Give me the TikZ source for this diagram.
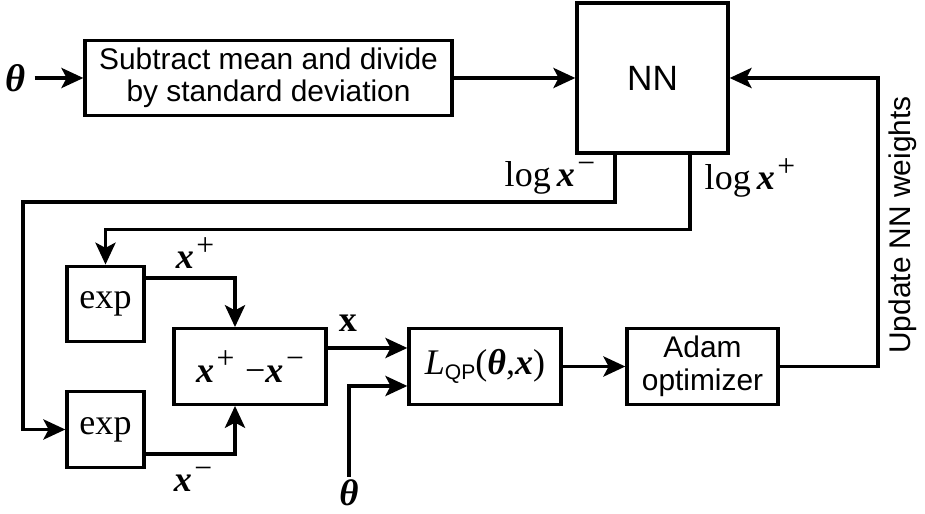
\documentclass[tikz,border=0pt]{standalone}
\usepackage{fontspec}
\usepackage{tikz}
\setmainfont{Liberation Sans}
\newfontfamily\tms{Liberation Serif}
\usetikzlibrary{arrows.meta}

\newcommand{\bx}{\textbf{\textit{x}}}
\newcommand{\bth}{\textbf{\textit{θ}}}
\newcommand{\sps}[1]{\kern1.5pt\raisebox{0.8ex}{\fontsize{18}{18}\selectfont #1}}

\begin{document}
\begin{tikzpicture}[
    line width=1.9pt,
    arr/.style={-{Stealth[length=12.5pt, width=11.5pt, inset=3pt]}},
    blk/.style={draw, inner sep=0pt, minimum height=1.51cm, align=center,
        font=\fontsize{17}{18.5}\selectfont},
    mblk/.style={blk, font=\tms\fontsize{20.5}{24}\selectfont},
    lbl/.style={inner sep=1pt, font=\tms\fontsize{20.5}{24}\selectfont}
]
    \useasboundingbox (0,0) rectangle (18.5,10.28);

    % top row
    \node[lbl] (th1) at (0.32, 8.72) {\fontsize{22}{24}\selectfont\bth};
    \node[blk, minimum width=7.34cm] (prep) at (5.37, 8.72) {Subtract mean and divide\\by standard deviation};
    \node[blk, minimum width=3.02cm, minimum height=3.0cm, font=\fontsize{20}{22}\selectfont] (nn) at (13.05, 8.72) {NN};

    % exponentials and difference
    \node[mblk, minimum width=1.54cm] (expp) at (2.11, 4.2) {exp};
    \node[mblk, minimum width=1.54cm] (expm) at (2.11, 1.69) {exp};
    \node[mblk, minimum width=3.04cm] (diff) at (5.0, 2.95) {\bx\sps{+}\kern6pt−\bx\sps{−}};

    % loss and optimizer
    \node[mblk, minimum width=3.04cm] (lqp) at (9.7, 2.95)
        {\textit{L}\raisebox{-0.35ex}{\fontsize{12}{12}\selectfont\sffamily\setmainfont{Liberation Sans}QP}(\bth,\bx)};
    \node[blk, minimum width=3.02cm] (adam) at (14.05, 2.95) {Adam\\optimizer};
    \node[lbl, anchor=base] (th2) at (6.98, 0.16) {\fontsize{21}{24}\selectfont\bth};

    % labels
    \node[lbl] (lxm) at (11.0, 6.72) {log\,\bx\sps{−}};
    \node[lbl] (lxp) at (15.0, 6.72) {log\,\bx\sps{+}};
    \node[lbl] (lp) at (3.9, 5.22) {\bx\sps{+}};
    \node[lbl] (lm) at (3.86, 0.7) {\bx\sps{−}};
    \node[lbl] (lx) at (6.96, 3.82) {\textbf{x}};
    \node[rotate=90, font=\fontsize{17}{18.5}\selectfont] (upd) at (18.06, 5.78) {Update NN weights};

    \coordinate (lft) at (0.46, 6.24);
    \coordinate (rgt) at (17.56, 8.72);

    \draw[arr, shorten <=3pt] (th1) -- (prep);
    \draw[arr] (prep) -- (nn);
    \draw[arr] ([xshift=-0.75cm]nn.south) |- (lft) |- (expm.west);
    \draw[arr] ([xshift=0.75cm]nn.south) -- ++(0,-1.5) -| (expp.north);
    \draw[arr] ([yshift=0.52cm]expp.east) -| ([xshift=-0.3cm]diff.north);
    \draw[arr] ([yshift=-0.49cm]expm.east) -| ([xshift=-0.3cm]diff.south);
    \draw[arr] ([yshift=0.37cm]diff.east) -- ([yshift=0.37cm]lqp.west);
    \draw[arr] (th2) |- ([yshift=-0.39cm]lqp.west);
    \draw[arr] (lqp) -- (adam);
    \draw[arr] (adam.east) -| (rgt) -- (nn.east);
\end{tikzpicture}
\end{document}
